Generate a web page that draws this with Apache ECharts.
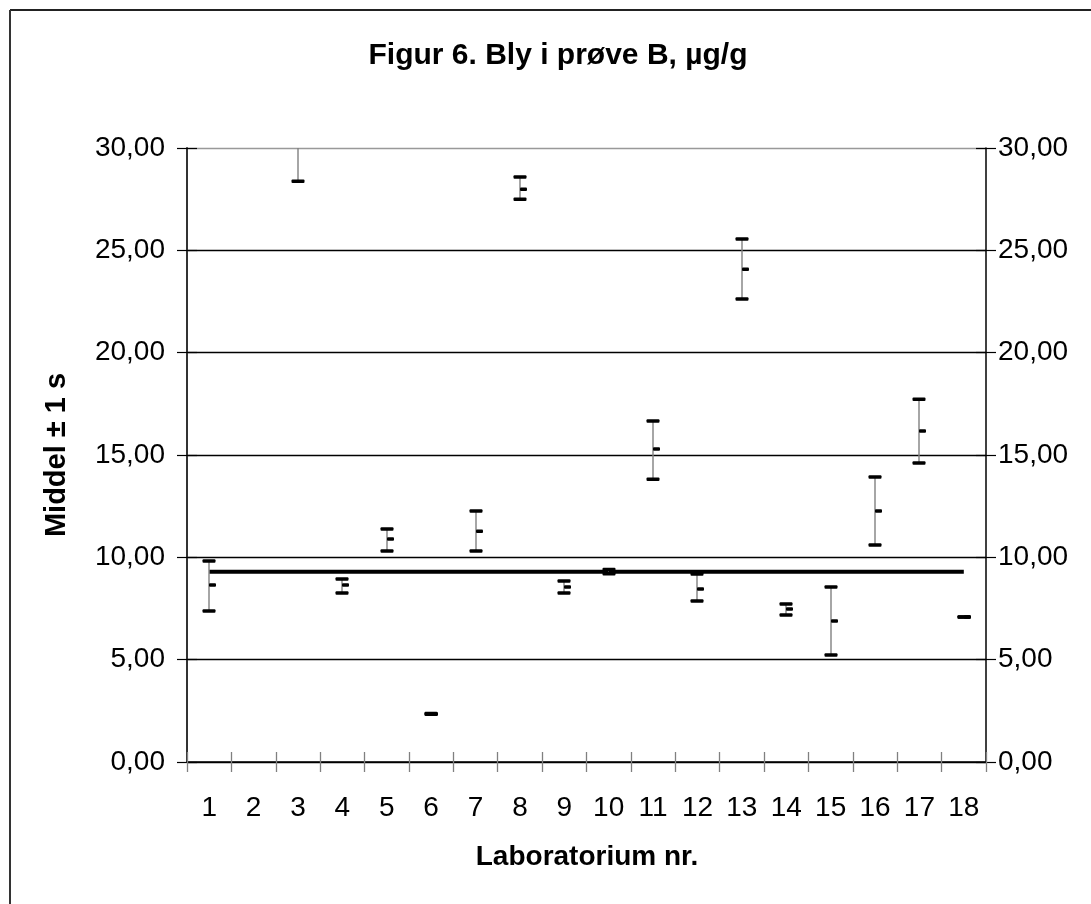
<!DOCTYPE html>
<html>
<head>
<meta charset="utf-8">
<title>Figur 6. Bly i prøve B</title>
<script src="https://cdn.jsdelivr.net/npm/echarts@6/dist/echarts.min.js"></script>
<style>
  html, body { margin: 0; padding: 0; background: #fff; }
  #chart { width: 1091px; height: 904px; }
</style>
</head>
<body>
<div id="chart"></div>
<script>
// Laboratory numbers on the category axis
const labs = ['1', '2', '3', '4', '5', '6', '7', '8', '9', '10', '11', '12', '13', '14', '15', '16', '17', '18'];
// Mean minus one standard deviation (µg/g); lab 2 reported nothing
const lowValues = [7.38, null, 28.38, 8.26, 10.31, 2.33, 10.31, 27.50, 8.26, 9.20, 13.82, 7.87, 22.62, 7.18, 5.23, 10.60, 14.61, 7.08];
// Laboratory mean (µg/g)
const meanValues = [8.65, null, 31.50, 8.65, 10.89, 2.35, 11.28, 27.99, 8.55, 9.30, 15.29, 8.45, 24.08, 7.47, 6.89, 12.26, 16.17, 7.08];
// Mean plus one standard deviation (µg/g)
const highValues = [9.82, null, 34.60, 8.94, 11.38, 2.37, 12.26, 28.58, 8.84, 9.40, 16.66, 9.18, 25.55, 7.72, 8.55, 13.92, 17.73, 7.08];
// Overall mean drawn as a horizontal reference line
const overallMean = 9.3;
// Value axis ticks
const yTicks = [0, 5, 10, 15, 20, 25, 30];

const FONT = '"Liberation Sans", Arial, Helvetica, sans-serif';
const fmt = v => v.toFixed(2).replace('.', ',');

const hlcData = labs.map((lab, i) => [i, lowValues[i], meanValues[i], highValues[i]]);
const refLine = labs.map(() => overallMean);

// High-low-close style bar: thin grey stem, bold caps at ±1 s, short tick on the right for the mean
function renderHLC(params, api) {
  const low = api.value(1);
  if (low === null || low === undefined || isNaN(low)) return;
  const idx = api.value(0);
  const pLow = api.coord([idx, low]);
  const pMean = api.coord([idx, api.value(2)]);
  const pHigh = api.coord([idx, api.value(3)]);
  const x = Math.round(pLow[0]);
  const half = 6.5;
  const th = 3.5;
  return {
    type: 'group',
    children: [
      { type: 'line', shape: { x1: x, y1: pLow[1], x2: x, y2: pHigh[1] },
        style: { stroke: '#808080', lineWidth: 1.4 } },
      { type: 'rect', shape: { x: x - half, y: pHigh[1] - th / 2, width: half * 2, height: th, r: 1 },
        style: { fill: '#000' } },
      { type: 'rect', shape: { x: x - half, y: pLow[1] - th / 2, width: half * 2, height: th, r: 1 },
        style: { fill: '#000' } },
      { type: 'rect', shape: { x: x, y: pMean[1] - th / 2, width: 7, height: th, r: 1 },
        style: { fill: '#000' } }
    ]
  };
}

const chart = echarts.init(document.getElementById('chart'), null, { renderer: 'canvas' });

const commonY = { type: 'value', min: yTicks[0], max: yTicks[yTicks.length - 1], interval: 5 };

chart.setOption({
  animation: false,
  backgroundColor: '#fff',
  textStyle: { fontFamily: FONT },
  grid: { left: 187, right: 105, top: 148, bottom: 142 },
  xAxis: [
    {
      type: 'category', data: labs, boundaryGap: true, position: 'bottom',
      axisLine: { show: true, lineStyle: { color: '#000', width: 1.5 } },
      axisTick: { show: true, inside: false, length: 10, lineStyle: { color: '#808080', width: 1.3 } },
      axisLabel: { color: '#000', fontSize: 28, fontFamily: FONT, margin: 32, interval: 0 },
      splitLine: { show: false }
    },
    {
      type: 'category', data: labs, boundaryGap: true, position: 'bottom',
      axisLine: { show: false },
      axisTick: { show: true, inside: true, length: 10, lineStyle: { color: '#808080', width: 1.3 } },
      axisLabel: { show: false },
      splitLine: { show: false }
    }
  ],
  yAxis: [
    Object.assign({}, commonY, {
      position: 'left',
      axisLine: { show: true, lineStyle: { color: '#333', width: 2 } },
      axisTick: { show: true, inside: false, length: 10, lineStyle: { color: '#000', width: 1.2 } },
      axisLabel: { color: '#000', fontSize: 28, fontFamily: FONT, margin: 22, formatter: fmt },
      splitLine: { show: true, lineStyle: { color: ['#000', '#000', '#000', '#000', '#000', '#000', '#999'], width: 1.3 } }
    }),
    Object.assign({}, commonY, {
      position: 'right',
      axisLine: { show: true, lineStyle: { color: '#000', width: 1.5 } },
      axisTick: { show: true, inside: false, length: 10, lineStyle: { color: '#000', width: 1.2 } },
      axisLabel: { color: '#000', fontSize: 28, fontFamily: FONT, margin: 12, formatter: fmt },
      splitLine: { show: false }
    }),
    Object.assign({}, commonY, {
      position: 'left',
      axisLine: { show: false },
      axisTick: { show: true, inside: true, length: 10, lineStyle: { color: '#000', width: 1.2 } },
      axisLabel: { show: false },
      splitLine: { show: false }
    }),
    Object.assign({}, commonY, {
      position: 'right',
      axisLine: { show: false },
      axisTick: { show: true, inside: true, length: 10, lineStyle: { color: '#000', width: 1.2 } },
      axisLabel: { show: false },
      splitLine: { show: false }
    })
  ],
  series: [
    {
      name: 'Middel alle',
      type: 'line',
      xAxisIndex: 0, yAxisIndex: 0,
      data: refLine,
      symbol: 'none',
      lineStyle: { color: '#000', width: 4 },
      z: 2
    },
    {
      name: 'Middel ± 1 s',
      type: 'custom',
      xAxisIndex: 0, yAxisIndex: 0,
      data: hlcData,
      renderItem: renderHLC,
      clip: true,
      z: 3
    }
  ],
  graphic: [
    { type: 'line', shape: { x1: 10, y1: 10, x2: 1091, y2: 10 }, style: { stroke: '#222', lineWidth: 2 } },
    { type: 'line', shape: { x1: 10, y1: 10, x2: 10, y2: 904 }, style: { stroke: '#333', lineWidth: 2 } },
    { type: 'text', x: 558, y: 56,
      style: { text: 'Figur 6. Bly i prøve B, µg/g', font: 'bold 30px ' + FONT, fill: '#000', textAlign: 'center', textVerticalAlign: 'middle' } },
    { type: 'text', x: 57, y: 455, rotation: Math.PI / 2,
      style: { text: 'Middel ± 1 s', font: 'bold 29px ' + FONT, fill: '#000', textAlign: 'center', textVerticalAlign: 'middle' } },
    { type: 'text', x: 587, y: 857,
      style: { text: 'Laboratorium nr.', font: 'bold 28px ' + FONT, fill: '#000', textAlign: 'center', textVerticalAlign: 'middle' } }
  ]
});
</script>
</body>
</html>
